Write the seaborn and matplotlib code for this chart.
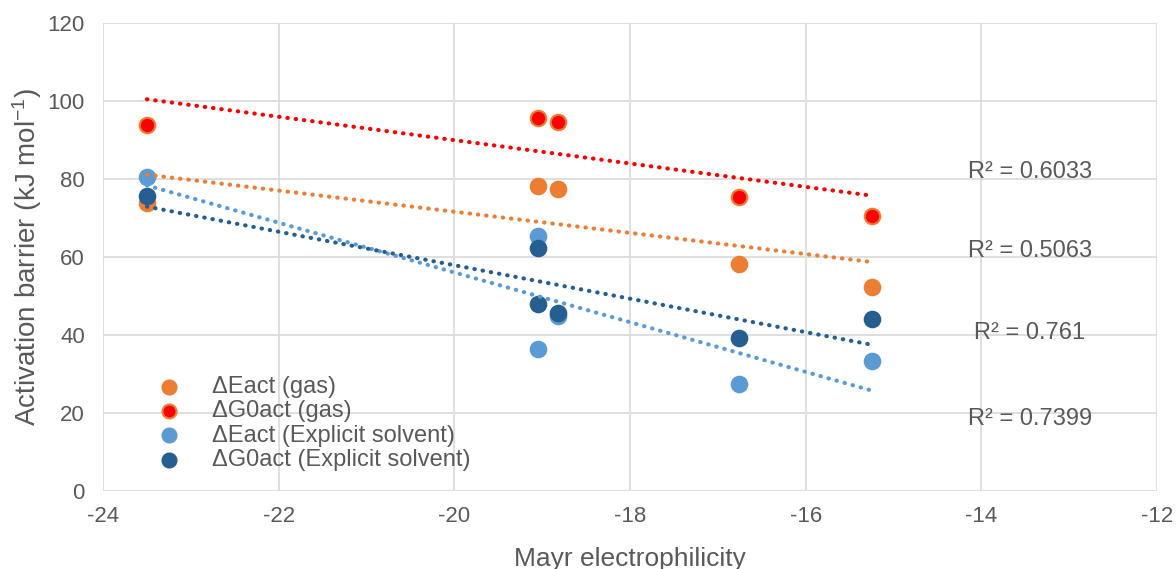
import numpy as np
import matplotlib.pyplot as plt
import seaborn as sns

# --- data ---
x_gas = [-23.5, -19.05, -18.82, -16.76, -15.25]
e_gas = [73.8, 78.3, 77.4, 58.2, 52.4]
g_gas = [93.9, 95.6, 94.6, 75.4, 70.5]

x_sol = [-23.5, -19.05, -19.05, -18.82, -16.76, -15.25]
e_sol = [80.5, 65.5, 36.4, 44.9, 27.4, 33.3]
g_sol = [75.7, 62.3, 48.0, 45.6, 39.2, 44.1]

labels = ["ΔEact (gas)", "ΔG0act (gas)",
          "ΔEact (Explicit solvent)", "ΔG0act (Explicit solvent)"]
r2_text = ["R² = 0.6033", "R² = 0.5063", "R² = 0.761", "R² = 0.7399"]
r2_pos = [(-13.45, 81.8), (-13.45, 61.5), (-13.45, 40.5), (-13.45, 18.5)]

sns.set_theme(style="whitegrid")
plt.rcParams['font.family'] = ['Liberation Sans', 'DejaVu Sans']
plt.rcParams['axes.unicode_minus'] = False
plt.rcParams['mathtext.default'] = 'regular'
grey = "#595959"

fig, ax = plt.subplots(figsize=(11.76, 5.69), dpi=100)
fig.subplots_adjust(left=0.0876, right=0.984, top=0.9596, bottom=0.137)

series = [
    (x_gas, e_gas, "#ED7D31", "#ED7D31", "#ED7D31"),
    (x_gas, g_gas, "#FF0000", "#ED7D31", "#FF0000"),
    (x_sol, e_sol, "#5B9BD5", "#5B9BD5", "#5B9BD5"),
    (x_sol, g_sol, "#255E91", "#255E91", "#255E91"),
]

for (xs, ys, fc, ec, lc), lab in zip(series, labels):
    sns.scatterplot(x=xs, y=ys, ax=ax, s=125, color=fc, edgecolor=ec,
                    linewidth=1.5, label=lab, zorder=3)
for (xs, ys, fc, ec, lc) in series:
    sns.regplot(x=np.array(xs), y=np.array(ys), ax=ax, ci=None, scatter=False,
                line_kws=dict(color=lc, linewidth=3.0, dashes=(0.1, 1.9),
                              dash_capstyle='round', zorder=4))

for txt, (tx, ty) in zip(r2_text, r2_pos):
    ax.text(tx, ty, txt, ha="center", va="center", fontsize=17, color=grey)

ax.set_xlim(-24, -12)
ax.set_ylim(0, 120)
ax.set_xticks(np.arange(-24, -11, 2))
ax.set_yticks(np.arange(0, 121, 20))
ax.grid(True, color="#D9D9D9", linewidth=1.2)
for sp in ax.spines.values():
    sp.set_visible(False)
ax.tick_params(axis="both", labelsize=16, colors=grey, length=0)
ax.tick_params(axis="y", pad=13)
ax.tick_params(axis="x", pad=11)
ax.set_xlabel("Mayr electrophilicity", fontsize=19, color=grey, labelpad=14)
ax.set_ylabel("Activation barrier (kJ mol$^{-1}$)", fontsize=20, color=grey,
              labelpad=3)

leg = ax.legend(loc="lower left", bbox_to_anchor=(0.04, 0.043), frameon=False,
                fontsize=17, labelspacing=0.1, handletextpad=0.85,
                borderpad=0, borderaxespad=0, markerscale=0.9)
for t in leg.get_texts():
    t.set_color(grey)

fig.savefig("out.png", dpi=100)
